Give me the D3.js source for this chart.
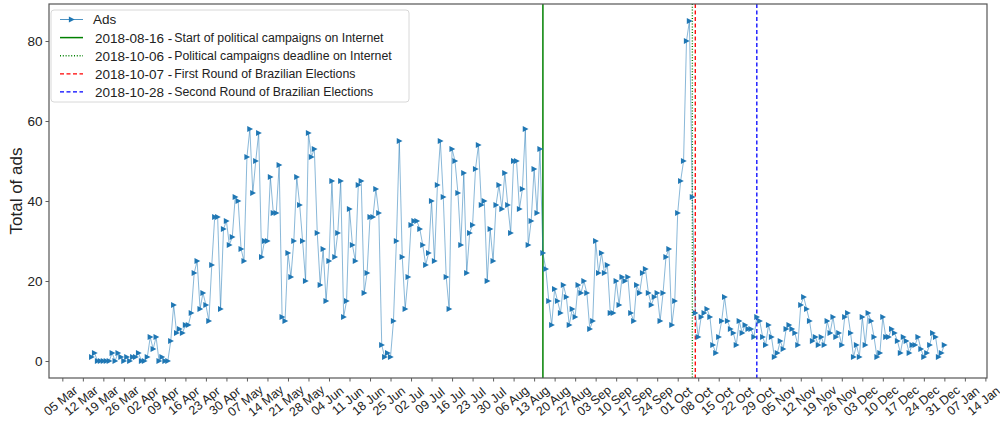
<!DOCTYPE html>
<html>
<head>
<meta charset="utf-8">
<script src="https://cdn.jsdelivr.net/npm/d3@7"></script>
<style>
	body { margin: 0; background: #fff; }
	text { font-family: "Liberation Sans", Arial, sans-serif; fill: #222; }
</style>
</head>
<body>
<div id="chart-area"></div>
<script>

// daily number of ads, one array per month (first value = first day listed)
let startDate = "2018-03-15";
let adsMar = [1,2,0,0,0,0,0,2,0,2,1,0,1,0,1,1,2];
let adsApr = [0,0,1,6,3,6,0,1,0,0,5,14,7,8,7,9,9,12,22,25,13,17,14,10,24,36,36,13,33,35];
let adsMay = [29,31,41,40,28,25,51,58,42,50,57,26,30,30,46,37,37,49,11,10,27,21,30,46,39,30,20,57,51,53,32];
let adsJun = [19,28,15,25,45,26,32,45,11,15,38,29,25,44,45,17,22,36,36,43,37,4,1,2,1,10,30,55,26,13];
let adsJul = [21,34,35,35,33,29,24,27,40,25,44,55,41,21,13,53,50,42,29,47,22,32,34,48,54,39,40,20,33,25,39];
let adsAug = [44,38,47,39,32,50,50,38,43,58,29,35,48,37,53,27,23,15,9,18,15,12,19,16,9,13,11,19,17,20,17];
let adsSep = [8,10,30,22,27,22,24,12,12,20,14,21,20,21,12,10,19,17,22,23,17,14,16,17,10,17,26,28,9,15];
let adsOct = [37,45,50,80,85,41,12,6,11,12,13,11,4,2,6,10,16,10,8,7,4,10,7,9,8,8,6,11,10,6,4];
let adsNov = [9,6,1,2,5,3,8,9,8,7,4,14,16,13,10,5,6,4,6,4,10,7,11,6,7,4,11,12,7,1];
let adsDec = [4,1,11,4,12,10,6,1,2,11,6,6,8,7,5,2,6,5,2,4,4,6,3,1,2,4,7,6,1,2,4];

// events marked with vertical lines
let eventDates = ["2018-08-16", "2018-10-06", "2018-10-07", "2018-10-28"];
let eventLabels = ["Start of political campaigns on Internet",
	"Political campaigns deadline on Internet",
	"First Round of Brazilian Elections",
	"Second Round of Brazilian Elections"];

let yTicks = [0, 20, 40, 60, 80];

// line styles for the events
let eventStyles = [
	{color: "#008000", dash: null, width: 1.5},
	{color: "#008000", dash: "1,1.8", width: 1.4},
	{color: "#ff0000", dash: "4,2.5", width: 1.3},
	{color: "#0000ff", dash: "4,2.5", width: 1.3}
];

let parseDate = d3.timeParse("%Y-%m-%d");
let formatTick = d3.timeFormat("%d %b");

let allAds = [].concat(adsMar, adsApr, adsMay, adsJun, adsJul, adsAug, adsSep, adsOct, adsNov, adsDec);
let start = parseDate(startDate);
let data = allAds.map((v, i) => ({date: d3.timeDay.offset(start, i), value: v}));

let W = 1000, H = 425;
let plot = {left: 49, right: 987, top: 4, bottom: 378};

let svg = d3.select("#chart-area").append("svg")
	.attr("width", W)
	.attr("height", H);

// matplotlib style 5% padding
let first = data[0].date, last = data[data.length - 1].date;
let span = last - first;
let x = d3.scaleTime()
	.domain([new Date(+first - 0.05 * span), new Date(+last + 0.05 * span)])
	.range([plot.left, plot.right]);

let yMax = d3.max(data, d => d.value);
let y = d3.scaleLinear()
	.domain([-0.05 * yMax, yMax * 1.05])
	.range([plot.bottom, plot.top]);

// weekly ticks on mondays
let xTickValues = d3.timeMonday.range(new Date(2018, 2, 5), new Date(2019, 0, 15));

let xAxis = d3.axisBottom(x)
	.tickValues(xTickValues)
	.tickFormat(formatTick)
	.tickSize(3.5)
	.tickPadding(3);

let yAxis = d3.axisLeft(y)
	.tickValues(yTicks)
	.tickSize(3.5)
	.tickPadding(3);

let xAxisGroup = svg.append("g")
	.attr("class", "x-axis axis")
	.attr("transform", "translate(0," + plot.bottom + ")")
	.call(xAxis);

xAxisGroup.select(".domain").remove();
xAxisGroup.selectAll(".tick line").attr("stroke", "#333").attr("stroke-width", 0.8);
xAxisGroup.selectAll(".tick text")
	.attr("font-size", 12.5)
	.attr("text-anchor", "middle")
	.attr("dy", null)
	.attr("y", null)
	.attr("dominant-baseline", "central")
	.attr("transform", "translate(-2,23) rotate(-39)");

let yAxisGroup = svg.append("g")
	.attr("class", "y-axis axis")
	.attr("transform", "translate(" + plot.left + ",0)")
	.call(yAxis);

yAxisGroup.select(".domain").remove();
yAxisGroup.selectAll(".tick line").attr("stroke", "#333").attr("stroke-width", 0.8);
yAxisGroup.selectAll(".tick text").attr("font-size", 13.5);

svg.append("text")
	.attr("transform", "translate(22," + (plot.top + plot.bottom) / 2 + ") rotate(-90)")
	.attr("text-anchor", "middle")
	.attr("font-size", 17)
	.text("Total of ads");

// event lines
svg.selectAll(".event")
	.data(eventDates)
	.enter().append("line")
	.attr("class", "event")
	.attr("x1", d => x(parseDate(d)))
	.attr("x2", d => x(parseDate(d)))
	.attr("y1", plot.top)
	.attr("y2", plot.bottom)
	.attr("stroke", (d, i) => eventStyles[i].color)
	.attr("stroke-width", (d, i) => eventStyles[i].width)
	.attr("stroke-dasharray", (d, i) => eventStyles[i].dash);

// ads line
let line = d3.line()
	.x(d => x(d.date))
	.y(d => y(d.value));

svg.append("path")
	.attr("class", "line")
	.attr("fill", "none")
	.attr("stroke", "#1f77b4")
	.attr("stroke-width", 0.7)
	.attr("stroke-opacity", 0.75)
	.attr("d", line(data));

let triangle = "M3.2,0L-2.6,-3L-2.6,3Z";

svg.selectAll(".marker")
	.data(data)
	.enter().append("path")
	.attr("class", "marker")
	.attr("d", triangle)
	.attr("transform", d => "translate(" + x(d.date) + "," + y(d.value) + ")")
	.attr("fill", "#1f77b4");

// frame
svg.append("rect")
	.attr("x", plot.left)
	.attr("y", plot.top)
	.attr("width", plot.right - plot.left)
	.attr("height", plot.bottom - plot.top)
	.attr("fill", "none")
	.attr("stroke", "#555")
	.attr("stroke-width", 1.2);

// legend
let legend = svg.append("g").attr("transform", "translate(51,10)");

legend.append("rect")
	.attr("width", 358)
	.attr("height", 92)
	.attr("rx", 3)
	.attr("fill", "#fff")
	.attr("fill-opacity", 0.85)
	.attr("stroke", "#d8d8d8");

let rowY = d => 9.5 + d * 18.1;

legend.append("line")
	.attr("x1", 9).attr("x2", 32)
	.attr("y1", rowY(0)).attr("y2", rowY(0))
	.attr("stroke", "#1f77b4").attr("stroke-width", 0.8);
legend.append("path")
	.attr("d", triangle)
	.attr("transform", "translate(20.5," + rowY(0) + ")")
	.attr("fill", "#1f77b4");
legend.append("text")
	.attr("x", 42).attr("y", rowY(0))
	.attr("dominant-baseline", "central")
	.attr("font-size", 13.5)
	.text("Ads");

eventDates.forEach((d, i) => {
	legend.append("line")
		.attr("x1", 9).attr("x2", 32)
		.attr("y1", rowY(i + 1)).attr("y2", rowY(i + 1))
		.attr("stroke", eventStyles[i].color)
		.attr("stroke-width", eventStyles[i].width)
		.attr("stroke-dasharray", eventStyles[i].dash);
	let t = legend.append("text")
		.attr("x", 44).attr("y", rowY(i + 1))
		.attr("dominant-baseline", "central");
	t.append("tspan").attr("font-size", 13.5).text(d + " -");
	t.append("tspan").attr("font-size", 12.3).attr("dx", 2).text(eventLabels[i]);
});

</script>
</body>
</html>
